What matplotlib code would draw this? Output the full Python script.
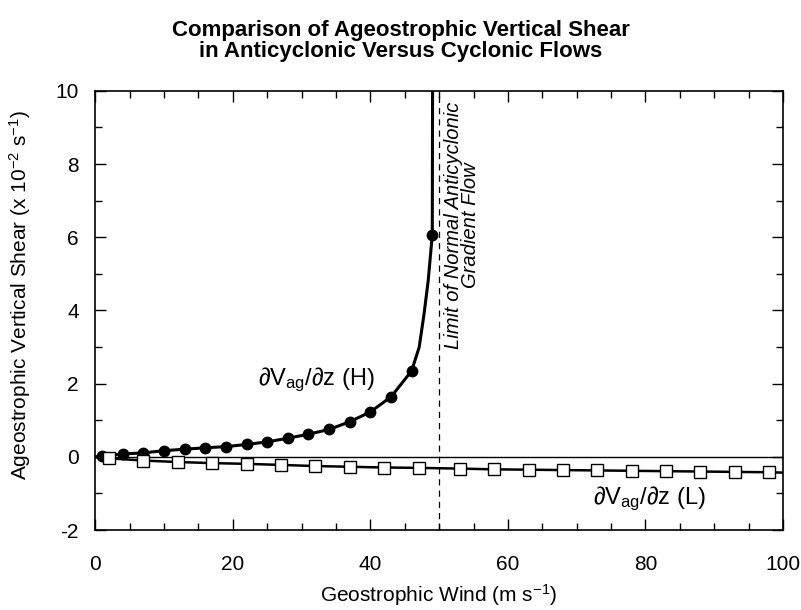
# plot.py
# recreates the ageostrophic vertical shear comparison chart
# anticyclonic (H) curve blows up near 50 m/s, cyclonic (L) stays small

import matplotlib.pyplot as plt
from matplotlib.ticker import MultipleLocator

plt.rcParams["font.family"] = ["Liberation Sans", "DejaVu Sans"]
plt.rcParams["axes.unicode_minus"] = False
plt.rcParams["mathtext.default"] = "regular"

# anticyclonic points (filled circles)
h_wind = [1, 4, 7, 10, 13, 16, 19, 22, 25, 28, 31, 34, 37, 40, 43, 46, 49]
h_shear = [0.02, 0.08, 0.11, 0.17, 0.21, 0.25, 0.28, 0.34, 0.41, 0.51,
           0.62, 0.75, 0.96, 1.23, 1.64, 2.35, 6.06]

# extra points on the H line between the last markers and up to the top
h_line_wind = [0] + h_wind[:-1] + [47.1, 47.8, 48.4, 49, 49.05]
h_line_shear = [0] + h_shear[:-1] + [3.0, 3.9, 4.8, 6.06, 10.5]

# cyclonic points (open squares)
l_wind = [2, 7, 12, 17, 22, 27, 32, 37, 42, 47, 53, 58, 63, 68, 73, 78, 83, 88, 93, 98]
l_shear = [-0.04, -0.10, -0.14, -0.17, -0.19, -0.22, -0.25, -0.27, -0.29, -0.30,
           -0.32, -0.34, -0.35, -0.36, -0.37, -0.38, -0.39, -0.40, -0.41, -0.42]

l_line_wind = [0] + l_wind + [100]
l_line_shear = [0] + l_shear + [-0.43]

limit_wind = 50

fig = plt.figure(figsize=(8.01, 6.10), dpi=100)
ax = fig.add_axes([0.119, 0.131, 0.8585, 0.72])

# zero line and the limit line
ax.axhline(0, color="black", linewidth=1)
ax.axvline(limit_wind, color="black", linewidth=0.9, linestyle=(0, (5, 4)))

# the two curves
ax.plot(h_line_wind, h_line_shear, color="black", linewidth=2.2)
ax.plot(h_wind, h_shear, linestyle="none", marker="o", markersize=7.5,
        color="black")
ax.plot(l_line_wind, l_line_shear, color="black", linewidth=1.8)
ax.plot(l_wind, l_shear, linestyle="none", marker="s", markersize=8,
        markerfacecolor="white", markeredgecolor="black", markeredgewidth=1)

# curve labels
ax.text(23.7, 1.96, r"$\partial$V$_{ag}$/$\partial$z (H)", fontsize=17,
        ha="left", va="baseline")
ax.text(72.4, -1.28, r"$\partial$V$_{ag}$/$\partial$z (L)", fontsize=17,
        ha="left", va="baseline")
ax.text(53.3, 6.34, "Limit of Normal Anticyclonic\nGradient Flow", rotation=90,
        fontsize=14.5, style="italic", ha="center", va="center",
        multialignment="center", linespacing=0.9)

ax.set_xlim(0, 100)
ax.set_ylim(-2, 10)
ax.xaxis.set_major_locator(MultipleLocator(20))
ax.xaxis.set_minor_locator(MultipleLocator(5))
ax.yaxis.set_major_locator(MultipleLocator(2))
ax.yaxis.set_minor_locator(MultipleLocator(1))
ax.tick_params(which="both", direction="in", top=True, right=True, width=1)
ax.tick_params(which="major", length=8, labelsize=15)
ax.tick_params(which="minor", length=5)
ax.tick_params(axis="x", which="major", pad=18)
ax.tick_params(axis="y", which="major", pad=12)
for side in ax.spines.values():
    side.set_linewidth(1.2)

ax.set_xlabel(r"Geostrophic Wind (m s$^{-1}$)", fontsize=15, labelpad=6)
ax.set_ylabel(r"Ageostrophic Vertical Shear (x 10$^{-2}$ s$^{-1}$)", fontsize=15)
ax.yaxis.set_label_coords(-0.09, 0.534)

fig.text(0.5, 0.933, "Comparison of Ageostrophic Vertical Shear\n"
         "in Anticyclonic Versus Cyclonic Flows", fontsize=16,
         fontweight="bold", ha="center", va="center", linespacing=1.0)

fig.savefig("out.png", dpi=100)
plt.close(fig)
